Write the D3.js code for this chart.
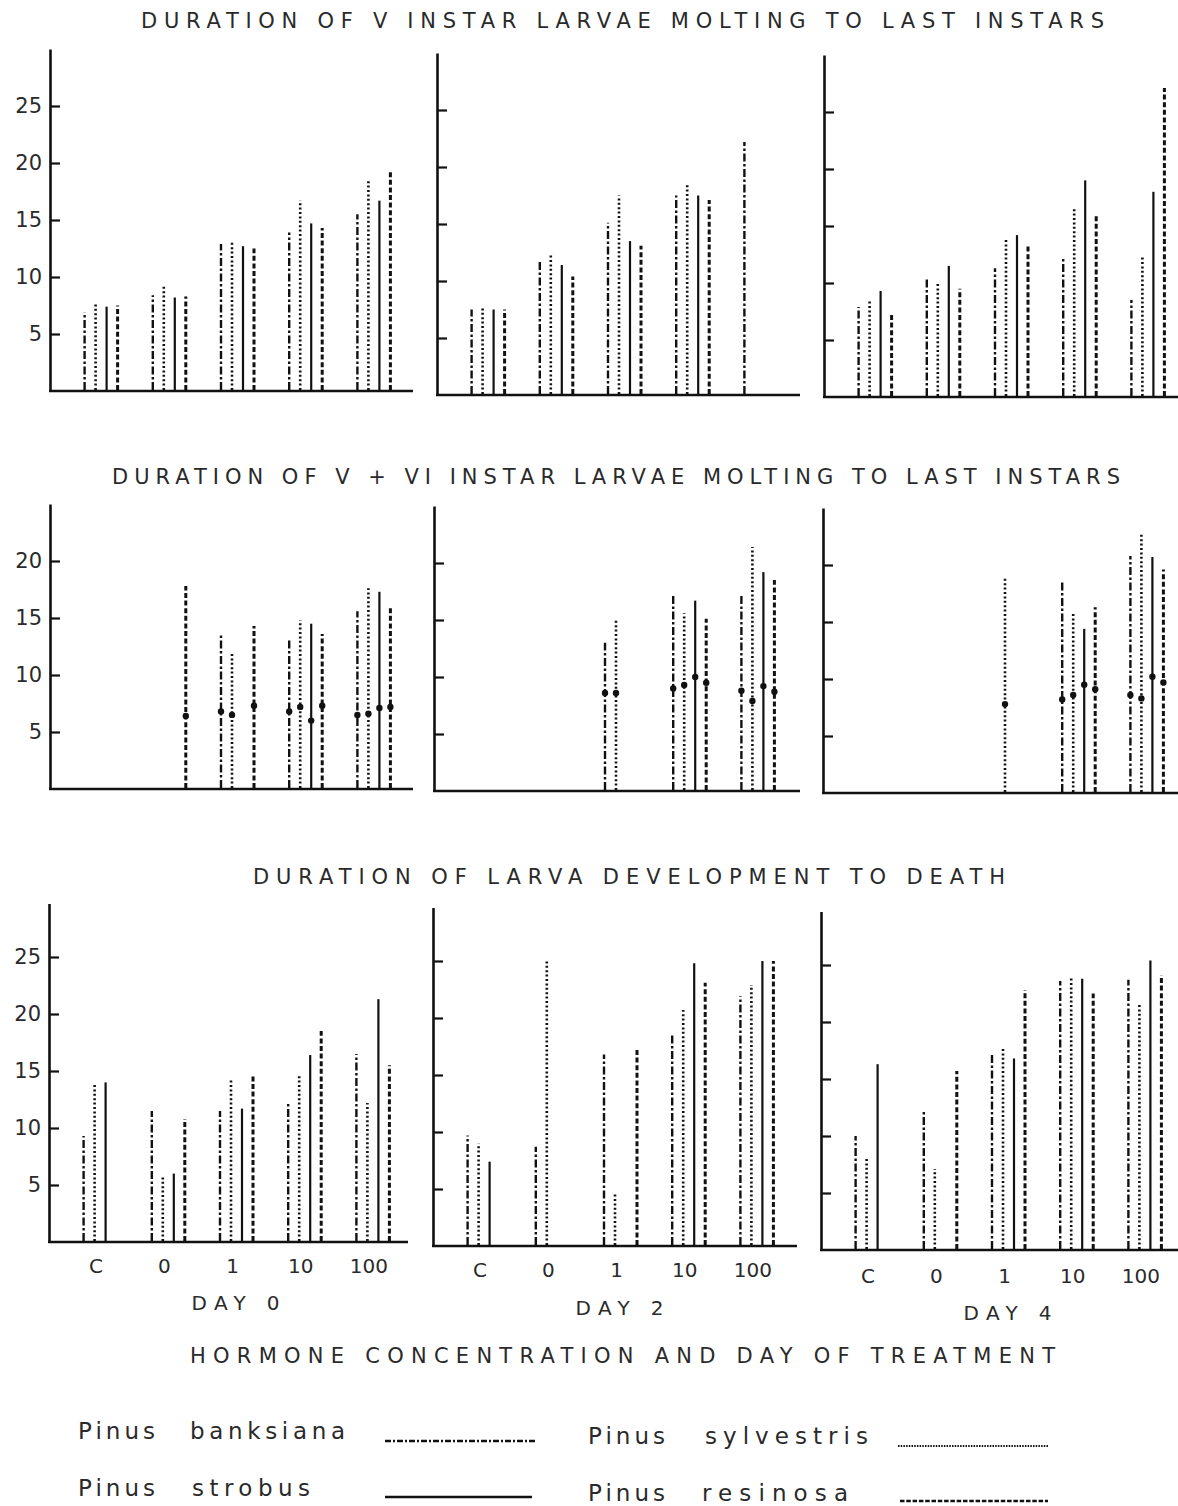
<!DOCTYPE html>
<html><head><meta charset="utf-8">
<script src="https://cdn.jsdelivr.net/npm/d3@7"></script>
<style>
html,body{margin:0;padding:0;background:#fff;}
svg{display:block;}
text{font-family:"DejaVu Sans","Liberation Sans",Arial,sans-serif;fill:#2a2a2a;}
</style></head>
<body>
<script>
// ---------- DATA ----------
const groups = ["C","0","1","10","100"];
const species = ["banksiana","sylvestris","strobus","resinosa"];
const legendNames = ["Pinus banksiana","Pinus sylvestris","Pinus strobus","Pinus resinosa"];
const dayLabels = ["DAY 0","DAY 2","DAY 4"];
const titles = [
  "DURATION OF V INSTAR LARVAE MOLTING TO LAST INSTARS",
  "DURATION OF V + VI INSTAR LARVAE MOLTING TO  LAST INSTARS",
  "DURATION  OF LARVA DEVELOPMENT TO DEATH"
];
const axisTitle = "HORMONE CONCENTRATION AND DAY OF TREATMENT";
const ticksA = [5,10,15,20,25];
const ticksB = [5,10,15,20];

// Row 1: V instar -> last instar (rows = species, cols = groups)
const vDay0 = [
  [6.9, 8.4, 12.9, 13.9, 15.5],
  [7.7, 9.3, 13.2, 16.7, 18.4],
  [7.4, 8.2, 12.7, 14.7, 16.7],
  [7.5, 8.3, 12.5, 14.3, 19.2]
];
const vDay2 = [
  [7.5, 11.7, 15.1, 17.5, 22.2],
  [7.7, 12.3, 17.5, 18.6, null],
  [7.5, 11.4, 13.5, 17.5, null],
  [7.5, 10.4, 13.1, 17.1, null]
];
const vDay4 = [
  [7.9, 10.5, 11.3, 12.3, 8.5],
  [8.4, 10.1, 13.9, 16.5, 12.3],
  [9.3, 11.5, 14.2, 19.0, 18.0],
  [7.3, 9.5, 13.2, 16.0, 27.1]
];
// Row 2: V+VI instar (max and mean)
const vviDay0Max = [
  [null, null, 13.5, 13.2, 15.6],
  [null, null, 11.9, 14.8, 17.6],
  [null, null, null, 14.5, 17.3],
  [null, 17.8, 14.3, 13.6, 16.1]
];
const vviDay0Mean = [
  [null, null, 6.8, 6.8, 6.5],
  [null, null, 6.5, 7.2, 6.6],
  [null, null, null, 6.0, 7.1],
  [null, 6.4, 7.3, 7.3, 7.2]
];
const vviDay2Max = [
  [null, null, 13.0, 17.3, 17.3],
  [null, null, 15.0, 15.6, 21.4],
  [null, null, null, 16.7, 19.2],
  [null, null, null, 15.1, 18.5]
];
const vviDay2Mean = [
  [null, null, 8.6, 9.0, 8.8],
  [null, null, 8.6, 9.3, 7.9],
  [null, null, null, 10.0, 9.2],
  [null, null, null, 9.5, 8.7]
];
const vviDay4Max = [
  [null, null, null, 18.5, 20.8],
  [null, null, 18.8, 15.7, 22.8],
  [null, null, null, 14.4, 20.7],
  [null, null, null, 16.3, 19.6]
];
const vviDay4Mean = [
  [null, null, null, 8.2, 8.6],
  [null, null, 7.8, 8.6, 8.3],
  [null, null, null, 9.5, 10.2],
  [null, null, null, 9.1, 9.7]
];
// Row 3: development to death
const dDay0 = [
  [9.3, 11.5, 11.5, 12.3, 16.5],
  [14.0, 5.7, 14.3, 14.6, 12.2],
  [14.0, 6.0, 11.7, 16.4, 21.3],
  [null, 10.8, 14.6, 18.5, 15.5]
];
const dDay2 = [
  [9.7, 8.7, 16.8, 18.6, 21.9],
  [9.0, 25.0, 4.7, 20.7, 22.9],
  [7.4, null, null, 24.8, 25.0],
  [null, null, 17.3, 23.1, 25.0]
];
const dDay4 = [
  [10.0, 12.2, 17.1, 23.6, 23.7],
  [8.1, 7.1, 17.8, 23.9, 21.6],
  [16.3, null, 16.8, 23.8, 25.4],
  [null, 15.7, 22.8, 22.5, 24.1]
];

// ---------- LAYOUT ----------
const W = 1178, H = 1506;
const PXU = 11.4;  // pixels per day unit
const rows = [
  {ymax: 30, ticks: ticksA, panels: [
    {ax: 50, base: 391, right: 413, data: vDay0},
    {ax: 437, base: 395, right: 800, data: vDay2},
    {ax: 824, base: 397, right: 1178, data: vDay4}]},
  {ymax: 25, ticks: ticksB, panels: [
    {ax: 50, base: 789, right: 413, data: vviDay0Max, mean: vviDay0Mean},
    {ax: 434, base: 791, right: 800, data: vviDay2Max, mean: vviDay2Mean},
    {ax: 823, base: 793, right: 1178, data: vviDay4Max, mean: vviDay4Mean}]},
  {ymax: 29.7, ticks: ticksA, panels: [
    {ax: 49, base: 1242, right: 408, data: dDay0, xl: 1273, dl: 1310},
    {ax: 433, base: 1246, right: 797, data: dDay2, xl: 1277, dl: 1315},
    {ax: 821, base: 1250, right: 1178, data: dDay4, xl: 1283, dl: 1320}]}
];
const styles = {
  banksiana: {dash: "8,2.5,2.5,2.5", w: 2.4},
  sylvestris: {dash: "2,2.4", w: 2.6},
  strobus: {dash: null, w: 2.2},
  resinosa: {dash: "5,2.6", w: 3}
};

const svg = d3.select("body").append("svg").attr("width", W).attr("height", H);

// Titles
const titlePos = [{x: 141, y: 28, len: 963}, {x: 112, y: 484, len: 1008}, {x: 253, y: 884, len: 752}];
titles.forEach((t, i) => {
  svg.append("text").attr("x", titlePos[i].x).attr("y", titlePos[i].y)
    .attr("font-size", 21).attr("textLength", titlePos[i].len).attr("lengthAdjust", "spacing")
    .text(t);
});

rows.forEach((row, ri) => {
  row.panels.forEach((p, pi) => {
    const g = svg.append("g");
    const y = d3.scaleLinear().domain([0, row.ymax]).range([p.base, p.base - row.ymax * PXU]);
    const x0 = d3.scaleBand().domain(groups).range([p.ax + 17, p.ax + 17 + 5 * 68.2]);
    const bw = x0.bandwidth();
    const x1 = d3.scalePoint().domain(species).range([bw / 2 - 16.5, bw / 2 + 16.5]);

    // y axis
    const axis = d3.axisLeft(y).tickValues(row.ticks).tickSize(-10).tickSizeOuter(0).tickPadding(8)
      .tickFormat(pi === 0 ? d3.format("d") : () => "");
    const ag = g.append("g").attr("transform", `translate(${p.ax},0)`).call(axis);
    ag.select(".domain").attr("stroke", "#111").attr("stroke-width", 2.6);
    ag.selectAll(".tick line").attr("stroke", "#111").attr("stroke-width", 2.2);
    ag.selectAll(".tick text").attr("font-size", 21).attr("fill", "#2a2a2a")
      .attr("font-family", "DejaVu Sans, Liberation Sans, sans-serif");

    // baseline
    g.append("line").attr("x1", p.ax - 1).attr("x2", p.right)
      .attr("y1", y(0)).attr("y2", y(0)).attr("stroke", "#111").attr("stroke-width", 2.6);

    // bars
    const items = [];
    species.forEach((s, si) => groups.forEach((gr, gi) => {
      const v = p.data[si][gi];
      if (v != null) items.push({s, gr, v, m: p.mean ? p.mean[si][gi] : null});
    }));
    g.selectAll("line.bar").data(items).join("line").attr("class", "bar")
      .attr("x1", d => x0(d.gr) + x1(d.s)).attr("x2", d => x0(d.gr) + x1(d.s))
      .attr("y1", y(0) - 1).attr("y2", d => y(d.v))
      .attr("stroke", "#111")
      .attr("stroke-width", d => styles[d.s].w)
      .attr("stroke-dasharray", d => styles[d.s].dash);
    // means
    g.selectAll("circle.mean").data(items.filter(d => d.m != null)).join("circle").attr("class", "mean")
      .attr("cx", d => x0(d.gr) + x1(d.s)).attr("cy", d => y(d.m)).attr("r", 3.2).attr("fill", "#111");

    // x labels (bottom row)
    if (p.xl) {
      g.selectAll("text.xl").data(groups).join("text").attr("class", "xl")
        .attr("x", d => x0(d) + bw / 2 - 4).attr("y", p.xl)
        .attr("text-anchor", "middle").attr("font-size", 20).text(d => d);
      g.append("text").attr("x", x0("1") + bw / 2 - 45).attr("y", p.dl)
        .attr("font-size", 20).attr("textLength", 88).attr("lengthAdjust", "spacing")
        .text(dayLabels[pi]);
    }
  });
});

svg.append("text").attr("x", 190).attr("y", 1363).attr("font-size", 21)
  .attr("textLength", 865).attr("lengthAdjust", "spacing").text(axisTitle);

// Legend
const legendPos = [
  {x: 78, x2: 190, len2: 155, y: 1439, lx1: 385, lx2: 535, ly: 1441},
  {x: 588, x2: 705, len2: 163, y: 1444, lx1: 898, lx2: 1048, ly: 1446},
  {x: 78, x2: 192, len2: 118, y: 1496, lx1: 385, lx2: 532, ly: 1497},
  {x: 588, x2: 702, len2: 146, y: 1501, lx1: 900, lx2: 1048, ly: 1501}
];
const legendStyles = {
  banksiana: {dash: "6,2,2,2", w: 2.4},
  sylvestris: {dash: "1.5,1.2", w: 2.2},
  strobus: {dash: null, w: 2.4},
  resinosa: {dash: "4.5,1.8", w: 2.4}
};
species.forEach((s, i) => {
  const lp = legendPos[i];
  const parts = legendNames[i].split(" ");
  svg.append("text").attr("x", lp.x).attr("y", lp.y).attr("font-size", 23)
    .attr("font-family", "Liberation Sans, Arial, sans-serif")
    .attr("textLength", 77).attr("lengthAdjust", "spacing").text(parts[0]);
  svg.append("text").attr("x", lp.x2).attr("y", lp.y).attr("font-size", 23)
    .attr("font-family", "Liberation Sans, Arial, sans-serif")
    .attr("textLength", lp.len2).attr("lengthAdjust", "spacing").text(parts[1]);
  svg.append("line").attr("x1", lp.lx1).attr("x2", lp.lx2).attr("y1", lp.ly).attr("y2", lp.ly)
    .attr("stroke", "#111").attr("stroke-width", legendStyles[s].w)
    .attr("stroke-dasharray", legendStyles[s].dash);
});
</script>
</body></html>
